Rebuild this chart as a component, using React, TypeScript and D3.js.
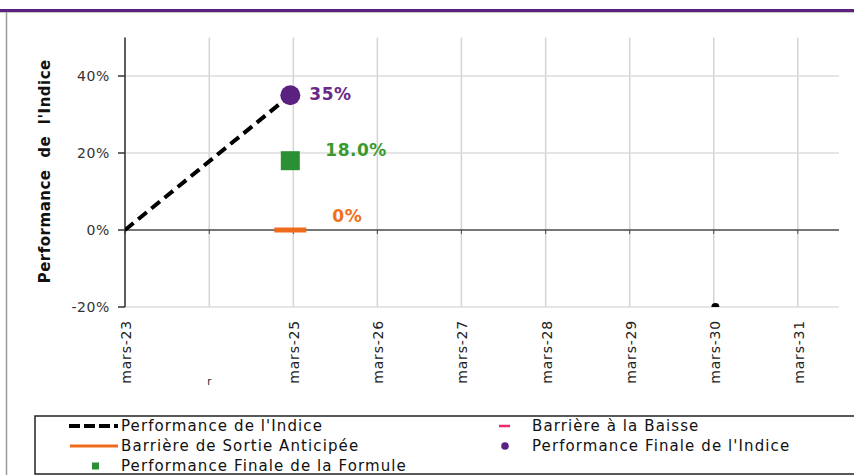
import React from "react";
import * as d3 from "d3";

// x axis: yearly ticks (march)
const tickDates = [
  "2023-03-01", "2024-03-01", "2025-03-01", "2026-03-01", "2027-03-01",
  "2028-03-01", "2029-03-01", "2030-03-01", "2031-03-01",
];
const tickLabels = ["mars-23", "", "mars-25", "mars-26", "mars-27", "mars-28", "mars-29", "mars-30", "mars-31"];
const stubLabel = "r";
const yTicks = [-0.2, 0, 0.2, 0.4];
const yTickLabels = ["-20%", "0%", "20%", "40%"];

// series
const indexDates = ["2023-03-01", "2025-02-16"];
const indexValues = [0, 0.35];
const finalDate = "2025-02-16";
const finalIndexValue = 0.35;
const finalFormulaValue = 0.18;
const earlyExitValue = 0;
const tailDate = "2030-03-08";
const tailValue = -0.2;

const labelIndex = "35%";
const labelFormula = "18.0%";
const labelExit = "0%";

const legendItems = [
  { name: "Performance de l'Indice", kind: "dash", color: "#000000" },
  { name: "Barrière à la Baisse", kind: "short", color: "#f0286e" },
  { name: "Barrière de Sortie Anticipée", kind: "line", color: "#f06a1c" },
  { name: "Performance Finale de l'Indice", kind: "dot", color: "#5b2181" },
  { name: "Performance Finale de la Formule", kind: "square", color: "#2a9035" },
];

const W = 854;
const H = 475;
const margin = { left: 125, right: 839, top: 37.5, bottom: 307 };

const parse = d3.timeParse("%Y-%m-%d");

export default function App() {
  const x = d3
    .scaleTime()
    .domain([parse("2023-03-01")!, parse("2031-08-27")!])
    .range([margin.left, margin.right]);
  const y = d3.scaleLinear().domain([-0.2, 0.5]).range([margin.bottom, margin.top]);

  const linePts: [number, number][] = indexDates.map((d, i) => [x(parse(d)!), y(indexValues[i])]);
  const line = d3.line()(linePts) || "";

  const fx = x(parse(finalDate)!);
  const tickFont = "'DejaVu Sans', Verdana, sans-serif";

  return (
    <svg width={W} height={H} style={{ position: "absolute", left: 0, top: 0, background: "#fff" }}>
      <defs>
        <clipPath id="plot">
          <rect x={margin.left} y={margin.top} width={margin.right - margin.left} height={margin.bottom - margin.top} />
        </clipPath>
      </defs>
      {/* frame */}
      <rect x={0} y={9} width={W} height={3} fill="#5b2181" />
      <line x1={0} x2={W} y1={12.5} y2={12.5} stroke="#c8c8c8" strokeWidth={1} />
      <line x1={6.5} x2={6.5} y1={12} y2={H} stroke="#9a9a9a" strokeWidth={1.5} />

      {/* grid */}
      {tickDates.map((d) => (
        <line key={d} x1={x(parse(d)!)} x2={x(parse(d)!)} y1={margin.top} y2={margin.bottom} stroke="#d4d4d4" strokeWidth={1.5} />
      ))}
      {yTicks.filter((v) => v !== 0).map((v) => (
        <line key={v} x1={margin.left} x2={margin.right} y1={y(v)} y2={y(v)} stroke="#dcdcdc" strokeWidth={1.5} />
      ))}
      {/* zero line + ticks */}
      <line x1={margin.left} x2={margin.right} y1={y(0)} y2={y(0)} stroke="#4a4a4a" strokeWidth={1.5} />
      {tickDates.map((d) => (
        <line key={"t" + d} x1={x(parse(d)!)} x2={x(parse(d)!)} y1={y(0)} y2={y(0) + 4} stroke="#4a4a4a" strokeWidth={1} />
      ))}
      {/* y axis */}
      <line x1={margin.left} x2={margin.left} y1={margin.top} y2={margin.bottom} stroke="#333" strokeWidth={1.5} />
      {yTicks.map((v, i) => (
        <g key={"y" + v}>
          <line x1={margin.left - 7} x2={margin.left} y1={y(v)} y2={y(v)} stroke="#333" strokeWidth={1.5} />
          <text x={110} y={y(v) + 5} textAnchor="end" fontFamily={tickFont} fontSize={14} letterSpacing={0.6} fill="#333">
            {yTickLabels[i]}
          </text>
        </g>
      ))}
      <text
        transform={`translate(50,${(margin.top + margin.bottom) / 2 - 1}) rotate(-90)`}
        textAnchor="middle"
        fontFamily={tickFont}
        fontWeight="bold"
        fontSize={15}
        letterSpacing={0.5}
        wordSpacing={6}
        fill="#111"
      >
        Performance de l'Indice
      </text>

      {/* x tick labels */}
      {tickDates.map((d, i) =>
        tickLabels[i] ? (
          <text
            key={"l" + d}
            transform={`translate(${x(parse(d)!) + 6},320) rotate(-90)`}
            textAnchor="end"
            fontFamily={tickFont}
            fontSize={14}
            letterSpacing={0.8}
            fill="#222"
          >
            {tickLabels[i]}
          </text>
        ) : null
      )}
      <text x={x(parse(tickDates[1])!) - 2} y={385} fontFamily={tickFont} fontSize={10} fill="#222">
        {stubLabel}
      </text>

      {/* series */}
      <g clipPath="url(#plot)">
        <path d={line} fill="none" stroke="#000" strokeWidth={4} strokeDasharray="11 6" />
        <circle cx={x(parse(tailDate)!)} cy={y(tailValue)} r={4} fill="#000" />
      </g>
      <line x1={fx - 16} x2={fx + 16} y1={y(earlyExitValue)} y2={y(earlyExitValue)} stroke="#f06a1c" strokeWidth={5} />
      <rect x={fx - 9.5} y={y(finalFormulaValue) - 9.5} width={19} height={19} fill="#2a9035" />
      <circle cx={fx} cy={y(finalIndexValue)} r={10} fill="#5b2181" />

      <text x={fx + 19} y={y(finalIndexValue) + 5} fontFamily={tickFont} fontWeight="bold" fontSize={17} letterSpacing={0.5} fill="#6a2a8a">
        {labelIndex}
      </text>
      <text x={fx + 35} y={y(finalFormulaValue) - 5} fontFamily={tickFont} fontWeight="bold" fontSize={17} letterSpacing={0.5} fill="#3a9a2e">
        {labelFormula}
      </text>
      <text x={fx + 42} y={y(earlyExitValue) - 8} fontFamily={tickFont} fontWeight="bold" fontSize={17} letterSpacing={0.5} fill="#f07020">
        {labelExit}
      </text>

      {/* legend */}
      <rect x={35} y={416} width={W} height={58} fill="none" stroke="#222" strokeWidth={1.5} />
      {legendItems.map((it, i) => {
        const col = i === 4 ? 0 : i % 2;
        const row = Math.floor(i / 2);
        const ty = 431 + row * 20;
        const tx = col === 0 ? 121 : 532;
        const cy = ty - 5;
        let sw: React.ReactNode = null;
        if (it.kind === "dash")
          sw = <line x1={69} x2={118} y1={cy} y2={cy} stroke={it.color} strokeWidth={4} strokeDasharray="11 4" />;
        else if (it.kind === "line")
          sw = <line x1={70} x2={118} y1={cy} y2={cy} stroke={it.color} strokeWidth={3} />;
        else if (it.kind === "square") sw = <rect x={92} y={cy - 3.5} width={7} height={7} fill={it.color} />;
        else if (it.kind === "short")
          sw = <line x1={499} x2={510} y1={cy} y2={cy} stroke={it.color} strokeWidth={2.5} />;
        else if (it.kind === "dot") sw = <circle cx={505} cy={cy} r={3.8} fill={it.color} />;
        return (
          <g key={it.name}>
            {sw}
            <text x={tx} y={ty} fontFamily={tickFont} fontSize={15} letterSpacing={1.1} fill="#111">
              {it.name}
            </text>
          </g>
        );
      })}
    </svg>
  );
}
